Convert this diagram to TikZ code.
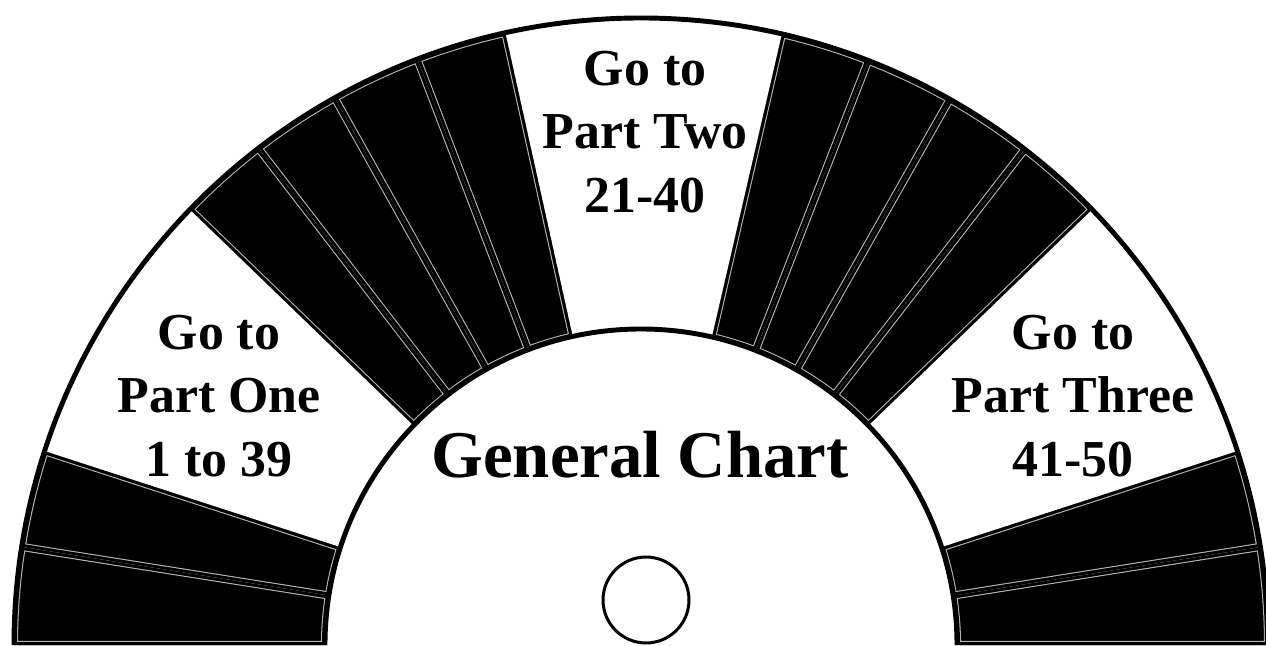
\documentclass[tikz,border=0pt]{standalone}
\usepackage{fontspec}
\setmainfont{Liberation Serif}
\def\rin{316}
\def\rout{627}
\newcommand{\fanpath}[2]{(#1:\rin) arc[start angle=#1,end angle=#2,radius=\rin]
  -- (#2:\rout) arc[start angle=#2,end angle=#1,radius=\rout] -- cycle}
\begin{document}
\begin{tikzpicture}[x=0.02cm,y=0.02cm,
    rim/.style={line width=2.8pt,black},
    seam/.style={line width=4.6pt,black!28},
    edge/.style={line width=3.4pt,black},
    parttext/.style={font=\bfseries\fontsize{29.5}{36}\selectfont,
                     align=center,inner sep=0pt}]

  % frame
  \useasboundingbox (-641,0) rectangle (625,645);
  \fill[white] (-641,0) rectangle (625,645);

  % black sectors
  \foreach \a/\b in {0/9,9/18,44/52.25,52.25/60.5,60.5/68.75,68.75/77,
                     102.5/110.9,110.9/119.25,119.25/127.6,127.6/136,162/171,171/180}{
    \begin{scope}
      \clip \fanpath{\a}{\b};
      \fill[black] \fanpath{\a}{\b};
      \draw[seam] \fanpath{\a}{\b};
      \draw[edge] \fanpath{\a}{\b};
    \end{scope}
  }

  % rims
  \draw[rim] (0:\rout) arc[start angle=0,end angle=180,radius=\rout];
  \draw[rim] (0:\rin) arc[start angle=0,end angle=180,radius=\rin];

  % texts
  \node (partone) [parttext] at (-422,249) {Go to\\Part One\\1 to 39};
  \node (parttwo) [parttext] at (4,513) {Go to\\Part Two\\21-40};
  \node (partthree) [parttext] at (432,249) {Go to\\Part Three\\41-50};
  \node (general) [font=\bfseries\fontsize{38}{44}\selectfont,inner sep=0pt]
    at (-1,190) {General Chart};

  % hole
  \node (hole) [draw,circle,line width=1.7pt,minimum size=1.72cm,inner sep=0pt]
    at (5,45) {};
\end{tikzpicture}
\end{document}
